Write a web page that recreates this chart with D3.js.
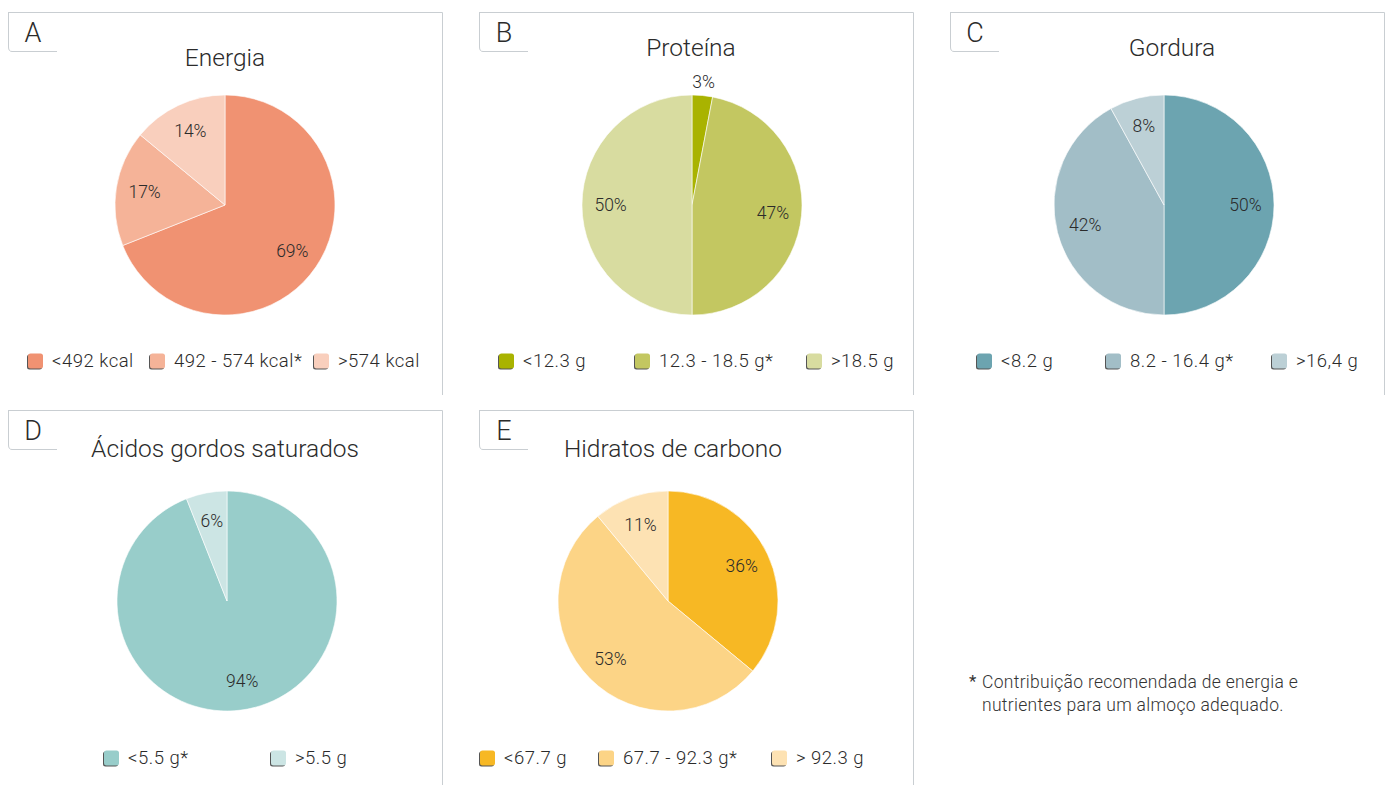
<!DOCTYPE html>
<html><head><meta charset="utf-8">
<script src="https://cdn.jsdelivr.net/npm/d3@7"></script>
<style>
html,body{margin:0;padding:0;background:#fff;}
svg{display:block;font-family:Roboto,"Liberation Sans",sans-serif;}
</style></head>
<body>
<svg id="chart" width="1389" height="785"></svg>
<script>
// ---- data ----
const energiaValues = [69, 17, 14];
const energiaLabels = ["<492 kcal", "492 - 574 kcal*", ">574 kcal"];
const proteinaValues = [3, 47, 50];
const proteinaLabels = ["<12.3 g", "12.3 - 18.5 g*", ">18.5 g"];
const gorduraValues = [50, 42, 8];
const gorduraLabels = ["<8.2 g", "8.2 - 16.4 g*", ">16,4 g"];
const saturadosValues = [94, 6];
const saturadosLabels = ["<5.5 g*", ">5.5 g"];
const hidratosValues = [36, 53, 11];
const hidratosLabels = ["<67.7 g", "67.7 - 92.3 g*", "> 92.3 g"];
const panelLetters = ["A", "B", "C", "D", "E"];
const panelTitles = ["Energia", "Proteína", "Gordura", "Ácidos gordos saturados", "Hidratos de carbono"];
const footnoteLines = ["Contribuição recomendada de energia e", "nutrientes para um almoço adequado."];

// ---- styles / layout ----
const palettes = [
  ["#F09272", "#F5B398", "#F9CFBD"],
  ["#A9B300", "#C3C761", "#D8DCA0"],
  ["#6CA4B0", "#A2BEC7", "#BCD0D6"],
  ["#98CDCA", "#CCE5E4"],
  ["#F7B824", "#FCD486", "#FDE2B3"]
];
const layout = [
  {x0: 8,   y0: 12,  x1: 442,  y1: 395, cx: 225,  cy: 205, titleX: 225,  titleY: 66,  legY: 361, legX: [28, 150, 314]},
  {x0: 479, y0: 12,  x1: 913,  y1: 395, cx: 692,  cy: 205, titleX: 691,  titleY: 56,  legY: 361, legX: [499, 635, 807]},
  {x0: 950, y0: 12,  x1: 1384, y1: 395, cx: 1164, cy: 205, titleX: 1172, titleY: 56,  legY: 361, legX: [977, 1106, 1272]},
  {x0: 8,   y0: 410, x1: 442,  y1: 785, cx: 227,  cy: 601, titleX: 225,  titleY: 457, legY: 758, legX: [104, 271]},
  {x0: 479, y0: 410, x1: 913,  y1: 785, cx: 668,  cy: 601, titleX: 673,  titleY: 457, legY: 758, legX: [480, 599, 772]}
];
const valuesList = [energiaValues, proteinaValues, gorduraValues, saturadosValues, hidratosValues];
const labelsList = [energiaLabels, proteinaLabels, gorduraLabels, saturadosLabels, hidratosLabels];

const R = 110;
const svg = d3.select("#chart");
const borderColor = "#C9CED2";
const textColor = "#2b2b2b";

const pie = d3.pie().sort(null).value(d => d).startAngle(0).endAngle(2 * Math.PI);
const arc = d3.arc().innerRadius(0).outerRadius(R);
const labelArc = d3.arc().innerRadius(R * 0.74).outerRadius(R * 0.74);
const outerLabelArc = d3.arc().innerRadius(R + 14).outerRadius(R + 14);

panelTitles.forEach((title, i) => {
  const L = layout[i];
  const g = svg.append("g");
  // panel frame: top + right
  g.append("path")
    .attr("d", `M${L.x0},${L.y0 + 0.5}H${L.x1 + 0.5}V${L.y1}`)
    .attr("fill", "none").attr("stroke", borderColor).attr("stroke-width", 1);
  // letter tab: left + bottom with rounded corner
  const tw = 49, th = 39, rr = 4;
  g.append("path")
    .attr("d", `M${L.x0 + 0.5},${L.y0}V${L.y0 + th - rr}Q${L.x0 + 0.5},${L.y0 + th + 0.5} ${L.x0 + rr},${L.y0 + th + 0.5}H${L.x0 + tw}`)
    .attr("fill", "none").attr("stroke", borderColor).attr("stroke-width", 1);
  g.append("text")
    .attr("x", L.x0 + 25).attr("y", L.y0 + 30)
    .attr("text-anchor", "middle")
    .attr("font-size", 27).attr("font-weight", 300).attr("fill", textColor)
    .text(panelLetters[i]);
  // title
  g.append("text")
    .attr("x", L.titleX).attr("y", L.titleY)
    .attr("text-anchor", "middle")
    .attr("font-size", 24.5).attr("font-weight", 300).attr("fill", textColor)
    .text(title);

  // pie
  const vals = valuesList[i];
  const cols = palettes[i];
  const arcs = pie(vals);
  const pg = g.append("g").attr("transform", `translate(${L.cx},${L.cy})`);
  pg.selectAll("path.slice").data(arcs).enter().append("path")
    .attr("class", "slice")
    .attr("d", arc)
    .attr("fill", (d, j) => cols[j])
    .attr("stroke", "#fff").attr("stroke-width", 0.6);
  pg.selectAll("text.pct").data(arcs).enter().append("text")
    .attr("class", "pct")
    .attr("transform", d => {
      const c = (d.data < 5 ? outerLabelArc : labelArc).centroid(d);
      return `translate(${c[0]},${c[1]})`;
    })
    .attr("text-anchor", "middle").attr("dy", "0.35em")
    .attr("font-size", 17.5).attr("font-weight", 300).attr("fill", textColor)
    .text(d => d.data + "%");

  // legend
  const labs = labelsList[i];
  labs.forEach((lab, j) => {
    const lx = L.legX[j], ly = L.legY;
    g.append("rect")
      .attr("x", lx - 1).attr("y", ly - 6.5)
      .attr("width", 15).attr("height", 15).attr("rx", 2.5)
      .attr("fill", "#555");
    g.append("rect")
      .attr("x", lx).attr("y", ly - 7.5)
      .attr("width", 15).attr("height", 15).attr("rx", 2.5)
      .attr("fill", cols[j]);
    g.append("text")
      .attr("x", lx + 24).attr("y", ly).attr("dy", "0.35em")
      .attr("font-size", 18.5).attr("font-weight", 300).attr("fill", textColor)
      .attr("letter-spacing", 0.5)
      .text(lab);
  });
});

// footnote
const fn = svg.append("g");
fn.append("text").attr("x", 969).attr("y", 687)
  .attr("font-size", 17).attr("fill", "#333").text("*");
footnoteLines.forEach((line, k) => {
  fn.append("text")
    .attr("x", 982).attr("y", 688 + k * 23)
    .attr("font-size", 17.5).attr("font-weight", 300).attr("fill", "#333")
    .attr("letter-spacing", 0.3)
    .text(line);
});
</script>
</body></html>
